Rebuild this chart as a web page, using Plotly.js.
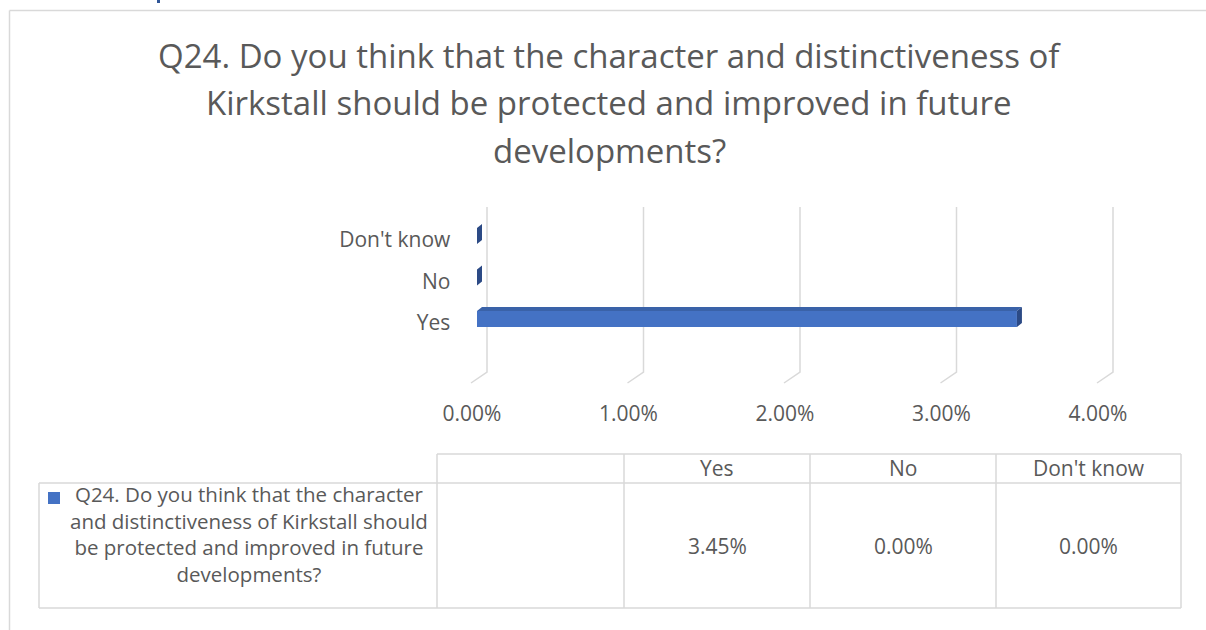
<!DOCTYPE html>
<html><head><meta charset="utf-8">
<script src="https://cdn.plot.ly/plotly-3.0.1.min.js"></script>
<style>html,body{margin:0;padding:0;background:#fff;overflow:hidden}#chart{width:1206px;height:630px}</style>
</head><body><div id="chart"></div>
<script>
// ---------- data ----------
const categories = ['Yes', 'No', "Don't know"];
const values = [3.45, 0.00, 0.00];
const tickVals = [0, 1, 2, 3, 4];
const tickLabels = ['0.00%', '1.00%', '2.00%', '3.00%', '4.00%'];
const titleLines = ['Q24. Do you think that the character and distinctiveness of',
                    'Kirkstall should be protected and improved in future',
                    'developments?'];
const seriesLines = ['Q24. Do you think that the character',
                     'and distinctiveness of Kirkstall should',
                     'be protected and improved in future',
                     'developments?'];

// ---------- geometry (pixels) ----------
const W = 1206, H = 630;
const K = 156.5;          // px per 1 %
const X0 = 477;           // px of value 0 on bar front plane
const CAT = 41.5;         // px per category
const YC0 = 319;          // px centre of first category
const XR = [-0.1, 4.1];
const YR = [-1.6, 2.75];
const fx = p => p / W, fy = p => 1 - p / H;
const pxToY = p => (YC0 - p) / CAT;
const DX = 5 / K, DY = 4 / CAT, HALF = 8 / CAT;
const TXT = '#595959', GRID = '#D9D9D9';
const FONT = 'Open Sans, Noto Sans, sans-serif';

const traces = [];
const ys = categories.map((c, i) => i);
// front faces
traces.push({type: 'bar', orientation: 'h', x: values, y: ys, width: 2 * HALF,
  marker: {color: '#4472C4', line: {width: 0}}, hoverinfo: 'x+y'});
// top and side faces
const tx = [], ty = [], sx = [], sy = [];
values.forEach((v, i) => {
  const yt = i + HALF, yb = i - HALF;
  tx.push(0, v, v + DX, DX, 0, null);
  ty.push(yt, yt, yt + DY, yt + DY, yt, null);
  sx.push(v, v, v + DX, v + DX, v, null);
  sy.push(yb, yt, yt + DY, yb + DY, yb, null);
});
traces.push({type: 'scatter', mode: 'lines', x: tx, y: ty, fill: 'toself', fillcolor: '#3A62A8',
  line: {width: 0, color: '#3A62A8'}, hoverinfo: 'skip'});
traces.push({type: 'scatter', mode: 'lines', x: sx, y: sy, fill: 'toself', fillcolor: '#2C4A85',
  line: {width: 0, color: '#2C4A85'}, hoverinfo: 'skip'});

// ---------- shapes ----------
const L = (x0, y0, x1, y1, c, w) => ({type: 'line', xref: 'paper', yref: 'paper',
  x0: fx(x0), y0: fy(y0), x1: fx(x1), y1: fy(y1), line: {color: c || GRID, width: w || 1.5}});
const shapes = [];
// gridlines (back wall + floor slant), beneath the bars
tickVals.forEach(t => {
  const xb = t + 10 / K, xf = t - 6 / K;
  shapes.push({type: 'path', xref: 'x', yref: 'y', layer: 'below',
    path: `M ${xb},${pxToY(207)} L ${xb},${pxToY(372)} L ${xf},${pxToY(383)}`,
    line: {color: GRID, width: 1.5}});
});
shapes.push(
  L(9.5, 10.5, W, 10.5), L(9.5, 10.5, 9.5, H),
  {type: 'rect', xref: 'paper', yref: 'paper', x0: fx(157), x1: fx(160), y0: fy(0), y1: fy(3),
   fillcolor: '#2F5597', line: {width: 0}},
  // table
  L(437, 454, 1181, 454), L(39, 483, 1181, 483), L(39, 608, 1181, 608),
  L(39, 483, 39, 608), L(437, 454, 437, 608), L(624, 454, 624, 608),
  L(810, 454, 810, 608), L(996, 454, 996, 608), L(1181, 454, 1181, 608),
  {type: 'rect', xref: 'paper', yref: 'paper', x0: fx(48), x1: fx(60), y0: fy(492), y1: fy(504),
   fillcolor: '#4472C4', line: {width: 0}}
);

// ---------- annotations ----------
const A = (text, x, y, size) => ({text, xref: 'paper', yref: 'paper', x: fx(x), y: fy(y),
  xanchor: 'center', yanchor: 'middle', showarrow: false, borderpad: 0,
  font: {family: FONT, size, color: TXT}});
const annotations = [];
const titleY = [55, 103, 150];
titleLines.forEach((t, i) => annotations.push(A(t, 609, titleY[i], 33)));
annotations.push(A(seriesLines.join('<br>'), 249, 533.5, 20.5));
const colC = [717, 903, 1088.5];
categories.forEach((c, i) => {
  annotations.push(A(c, colC[i], 468, 21));
  annotations.push(A(values[i].toFixed(2) + '%', colC[i], 546, 21));
});

const xDomPx = [X0 + XR[0] * K, X0 + XR[1] * K];
const yDomPx = [YC0 - YR[0] * CAT, YC0 - YR[1] * CAT];
const layout = {
  width: W, height: H, autosize: false, showlegend: false,
  margin: {l: 0, r: 0, t: 0, b: 0, pad: 0},
  paper_bgcolor: '#fff', plot_bgcolor: 'rgba(0,0,0,0)',
  font: {family: FONT, color: TXT},
  xaxis: {range: XR, domain: [fx(xDomPx[0]), fx(xDomPx[1])], tickvals: tickVals, ticktext: tickLabels,
    showgrid: false, zeroline: false, showline: false, ticks: '', ticklabelstandoff: 14,
    ticklabelshift: -5, tickfont: {family: FONT, size: 21, color: TXT}, fixedrange: true},
  yaxis: {range: YR, domain: [fy(yDomPx[0]), fy(yDomPx[1])], tickvals: ys, ticktext: categories,
    showgrid: false, zeroline: false, showline: false, ticks: '', ticklabelstandoff: 10,
    ticklabelshift: 4, tickfont: {family: FONT, size: 21, color: TXT}, fixedrange: true},
  shapes, annotations
};
Plotly.newPlot('chart', traces, layout, {displayModeBar: false, staticPlot: true});
</script>
</body></html>
